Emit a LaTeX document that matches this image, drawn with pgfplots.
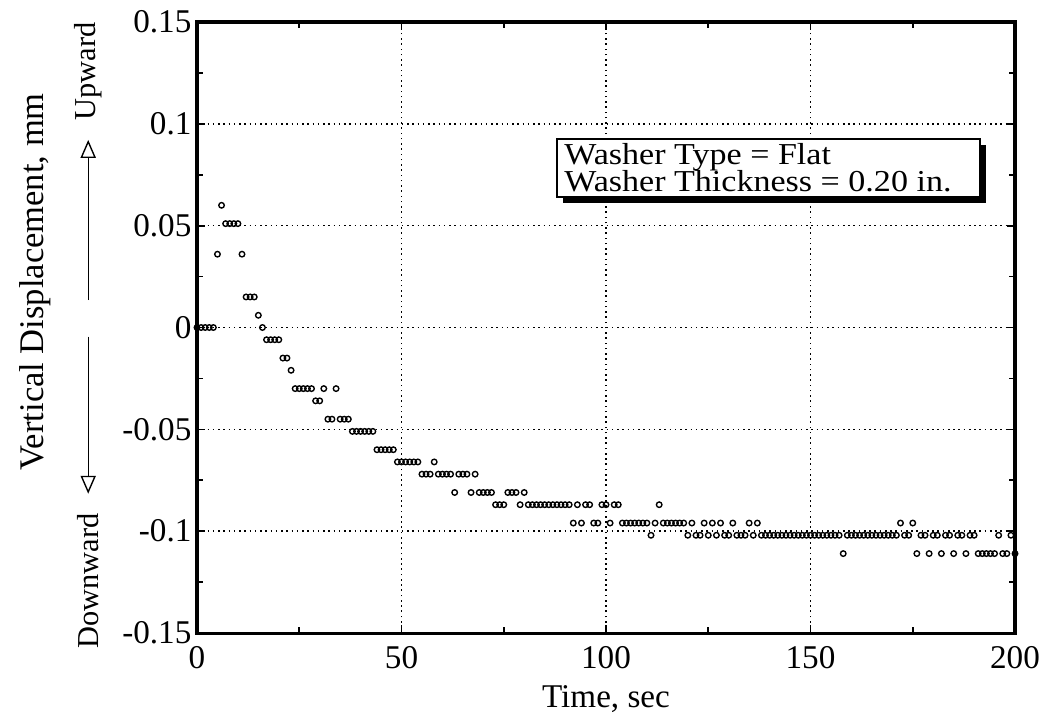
\documentclass[border=0pt]{standalone}
\usepackage{pgfplots}
\pgfplotsset{compat=1.18}
\usepackage{fontspec}
\setmainfont{Liberation Serif}
\newfontfamily\boxfont{Liberation Serif}[FakeStretch=1.12]
\usetikzlibrary{arrows.meta}
\begin{document}
\begin{tikzpicture}
\path[use as bounding box] (-71.29pt,-28.95pt) rectangle (308.3pt,229.06pt);
\begin{axis}[
  scale only axis,
  width=296pt, height=221.1pt,
  xmin=0, xmax=200, ymin=-0.15, ymax=0.15,
  xtick={0,50,100,150,200},
  ytick={-0.15,-0.1,-0.05,0,0.05,0.1,0.15},
  yticklabels={-0.15,-0.1,-0.05,0,0.05,0.1,0.15},
  minor x tick num=1, minor y tick num=1,
  tick align=inside, ticks=both,
  xtick pos=both, ytick pos=both,
  major tick length=3pt, minor tick length=2pt,
  tick style={black, line width=0.6pt},
  axis line style={line width=1.1pt},
  grid=major,
  major grid style={black, line width=0.5pt, dash pattern=on 0.6pt off 1.3pt},
  scaled ticks=false,
  /pgf/number format/assume math mode=true,
  tick label style={font=\fontsize{12}{14}\selectfont},
  xticklabel style={yshift=-1.5pt},
  yticklabel style={xshift=1.5pt},
  xlabel={Time, sec},
  xlabel style={font=\fontsize{12}{14}\selectfont, yshift=1pt},
  clip=false,
]
\addplot[only marks, mark=o, mark size=1pt, mark options={line width=0.5pt, black}] table {
x y
0 0
1 0
2 0
3 0
4 0
5 0.036
6 0.060
7 0.051
8 0.051
9 0.051
10 0.051
11 0.036
12 0.015
13 0.015
14 0.015
15 0.006
16 0
17 -0.006
18 -0.006
19 -0.006
20 -0.006
21 -0.015
22 -0.015
23 -0.021
24 -0.030
25 -0.030
26 -0.030
27 -0.030
28 -0.030
29 -0.036
30 -0.036
31 -0.030
32 -0.045
33 -0.045
34 -0.030
35 -0.045
36 -0.045
37 -0.045
38 -0.051
39 -0.051
40 -0.051
41 -0.051
42 -0.051
43 -0.051
44 -0.060
45 -0.060
46 -0.060
47 -0.060
48 -0.060
49 -0.066
50 -0.066
51 -0.066
52 -0.066
53 -0.066
54 -0.066
55 -0.072
56 -0.072
57 -0.072
58 -0.066
59 -0.072
60 -0.072
61 -0.072
62 -0.072
63 -0.081
64 -0.072
65 -0.072
66 -0.072
67 -0.081
68 -0.072
69 -0.081
70 -0.081
71 -0.081
72 -0.081
73 -0.087
74 -0.087
75 -0.087
76 -0.081
77 -0.081
78 -0.081
79 -0.087
80 -0.081
81 -0.087
82 -0.087
83 -0.087
84 -0.087
85 -0.087
86 -0.087
87 -0.087
88 -0.087
89 -0.087
90 -0.087
91 -0.087
92 -0.096
93 -0.087
94 -0.096
95 -0.087
96 -0.087
97 -0.096
98 -0.096
99 -0.087
100 -0.087
101 -0.096
102 -0.087
103 -0.087
104 -0.096
105 -0.096
106 -0.096
107 -0.096
108 -0.096
109 -0.096
110 -0.096
111 -0.102
112 -0.096
113 -0.087
114 -0.096
115 -0.096
116 -0.096
117 -0.096
118 -0.096
119 -0.096
120 -0.102
121 -0.096
122 -0.102
123 -0.102
124 -0.096
125 -0.102
126 -0.096
127 -0.102
128 -0.096
129 -0.102
130 -0.102
131 -0.096
132 -0.102
133 -0.102
134 -0.102
135 -0.096
136 -0.102
137 -0.096
138 -0.102
139 -0.102
140 -0.102
141 -0.102
142 -0.102
143 -0.102
144 -0.102
145 -0.102
146 -0.102
147 -0.102
148 -0.102
149 -0.102
150 -0.102
151 -0.102
152 -0.102
153 -0.102
154 -0.102
155 -0.102
156 -0.102
157 -0.102
158 -0.111
159 -0.102
160 -0.102
161 -0.102
162 -0.102
163 -0.102
164 -0.102
165 -0.102
166 -0.102
167 -0.102
168 -0.102
169 -0.102
170 -0.102
171 -0.102
172 -0.096
173 -0.102
174 -0.102
175 -0.096
176 -0.111
177 -0.102
178 -0.102
179 -0.111
180 -0.102
181 -0.102
182 -0.111
183 -0.102
184 -0.102
185 -0.111
186 -0.102
187 -0.102
188 -0.111
189 -0.102
190 -0.102
191 -0.111
192 -0.111
193 -0.111
194 -0.111
195 -0.111
196 -0.102
197 -0.111
198 -0.111
199 -0.102
200 -0.111
};
% text box with drop shadow
\fill[black] ([xshift=2.2pt,yshift=-2.2pt]rel axis cs:0.4401,0.7136) rectangle ([xshift=2.2pt,yshift=-2.2pt]rel axis cs:0.9572,0.8085);
\draw[fill=white, line width=0.6pt] (rel axis cs:0.4401,0.7136) rectangle (rel axis cs:0.9572,0.8085);
\node[anchor=base west, inner sep=0pt, font=\boxfont\fontsize{11}{13}\selectfont] at (rel axis cs:0.4485,0.766) {Washer Type = Flat};
\node[anchor=base west, inner sep=0pt, font=\boxfont\fontsize{11}{13}\selectfont] at (rel axis cs:0.4485,0.7234) {Washer Thickness = 0.20 in.};
% y label and direction arrows
\node[rotate=90, font=\fontsize{12.5}{14}\selectfont] at (rel axis cs:-0.198,0.575) {Vertical Displacement, mm};
\node[rotate=90, font=\fontsize{11}{13}\selectfont, anchor=west] at (rel axis cs:-0.133,0.823) {Upward};
\node[rotate=90, font=\fontsize{11}{13}\selectfont] at (rel axis cs:-0.133,0.085) {Downward};
\draw[line width=0.4pt, -{Triangle[open, length=6.5pt, width=5.5pt, line width=0.5pt]}] (rel axis cs:-0.133,0.545) -- (rel axis cs:-0.133,0.807);
\draw[line width=0.4pt, -{Triangle[open, length=6.5pt, width=5.5pt, line width=0.5pt]}] (rel axis cs:-0.133,0.485) -- (rel axis cs:-0.133,0.228);
\end{axis}
\end{tikzpicture}
\end{document}
